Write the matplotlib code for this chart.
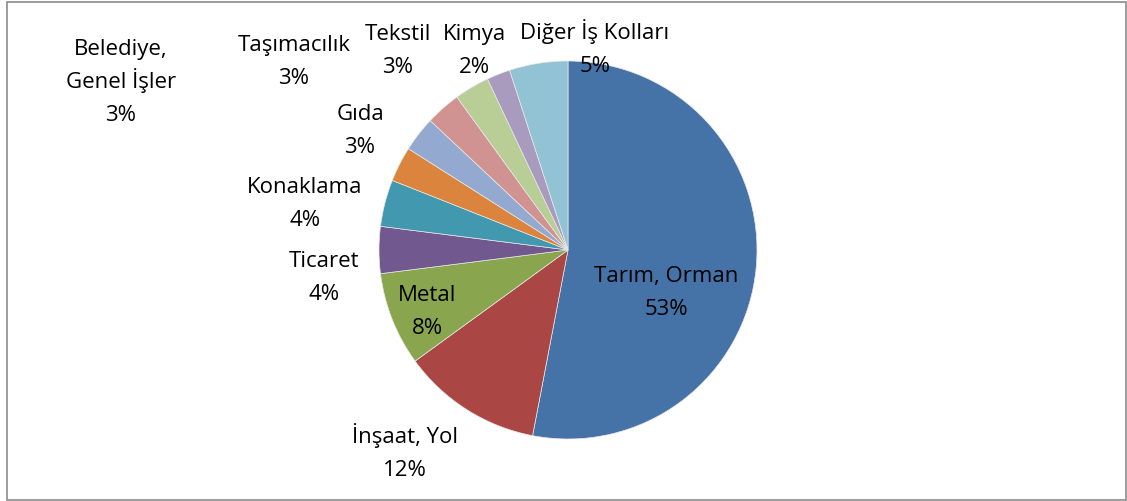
import matplotlib
matplotlib.use("Agg")
import matplotlib.pyplot as plt
from matplotlib.patches import Rectangle

plt.rcParams['font.family'] = ['Open Sans', 'DejaVu Sans']

# dilim verileri (saat 12'den başlayıp saat yönünde)
categories = ['Tarım, Orman', 'İnşaat, Yol', 'Metal', 'Ticaret', 'Konaklama', 'Gıda',
              'Belediye,\nGenel İşler', 'Taşımacılık', 'Tekstil', 'Kimya', 'Diğer İş Kolları']
percents = [53, 12, 8, 4, 4, 3, 3, 3, 3, 2, 5]
colors = ['#4572A7', '#AA4643', '#89A54E', '#71588F', '#4198AF', '#DB843D',
          '#93A9CF', '#D19392', '#B9CD96', '#A99BBD', '#92C3D5']

# etiket yerleri: orta x, son satırın taban çizgisi (piksel, üstten)
label_pos = [(666, 315), (405, 476), (427, 334), (324, 300), (305, 226), (360, 153),
             (121, 121), (294, 84), (398, 73), (474, 73), (595, 72)]
line_step = 33

W, H = 1127, 502
fig = plt.figure(figsize=(W / 100, H / 100), dpi=100)
ax = fig.add_axes([0, 0, 1, 1])

ax.pie(percents, colors=colors, startangle=90, counterclock=False,
       center=(568, H - 251), radius=189, frame=True,
       wedgeprops=dict(linewidth=0.5, edgecolor='#e8e8e8'))
ax.set_xlim(0, W)
ax.set_ylim(0, H)
ax.set_aspect('equal')
ax.axis('off')

for cat, p, (x, yb) in zip(categories, percents, label_pos):
    lines = cat.split('\n') + [f'{p}%']
    n = len(lines)
    for i, s in enumerate(lines):
        y = yb - (n - 1 - i) * line_step
        ax.text(x, H - y, s, ha='center', va='baseline', fontsize=16, color='black')

ax.add_patch(Rectangle((7, 1), 1119, 498, fill=False, edgecolor='#8c8c8c', linewidth=1.2))

fig.savefig('out.png', dpi=100)
